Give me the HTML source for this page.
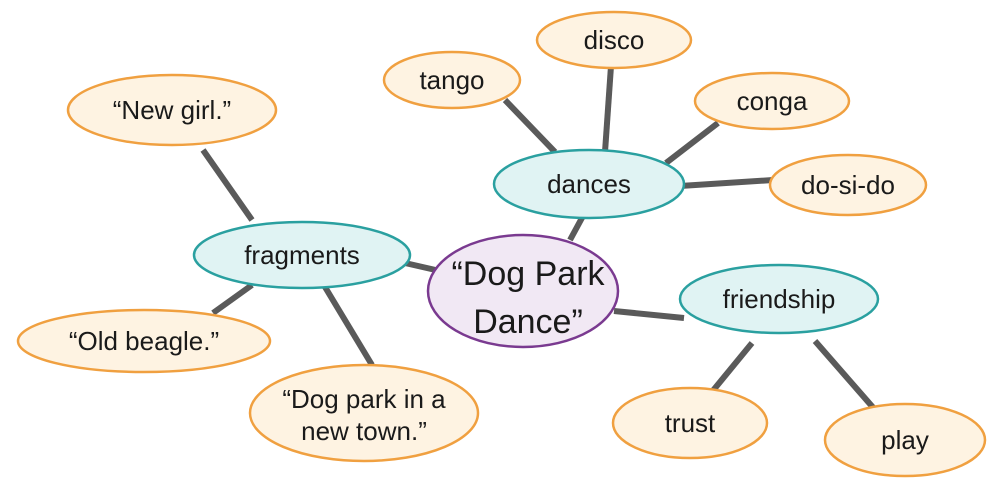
<!DOCTYPE html>
<html><head><style>html,body{margin:0;padding:0;background:#fff}</style></head>
<body>
<svg width="1000" height="491" viewBox="0 0 1000 491" xmlns="http://www.w3.org/2000/svg" font-family="'Liberation Sans', sans-serif" fill="#1a1a1a">
<g stroke="#5a5a5a" stroke-width="6" stroke-linecap="butt">
<line x1="505" y1="100" x2="555" y2="152"/>
<line x1="611" y1="66" x2="605" y2="152"/>
<line x1="718" y1="123" x2="666" y2="163"/>
<line x1="680" y1="186" x2="773" y2="180"/>
<line x1="583" y1="216" x2="570" y2="240"/>
<line x1="405" y1="263" x2="440" y2="271"/>
<line x1="203" y1="150" x2="252" y2="220"/>
<line x1="213" y1="313" x2="252" y2="285"/>
<line x1="325" y1="287" x2="372" y2="365"/>
<line x1="614" y1="311" x2="684" y2="318"/>
<line x1="752" y1="343" x2="711" y2="393"/>
<line x1="815" y1="341" x2="877" y2="412"/>
</g>
<g fill="#fef3e2" stroke="#f0a040" stroke-width="2.5">
<ellipse cx="452" cy="80" rx="68" ry="28"/>
<ellipse cx="614" cy="40" rx="77" ry="28"/>
<ellipse cx="772" cy="101" rx="77" ry="28"/>
<ellipse cx="848" cy="185" rx="78" ry="30"/>
<ellipse cx="172" cy="110" rx="104" ry="35"/>
<ellipse cx="144" cy="341" rx="126" ry="31"/>
<ellipse cx="364" cy="413" rx="114" ry="48"/>
<ellipse cx="690" cy="423" rx="77" ry="35"/>
<ellipse cx="905" cy="440" rx="80" ry="36"/>
</g>
<g fill="#e0f3f3" stroke="#2aa0a0" stroke-width="2.5">
<ellipse cx="589" cy="184" rx="95" ry="34"/>
<ellipse cx="302" cy="255" rx="108" ry="33"/>
<ellipse cx="779" cy="299" rx="99" ry="34"/>
</g>
<ellipse cx="523" cy="291" rx="95" ry="56" fill="#f1e8f4" stroke="#7a3a90" stroke-width="2.5"/>
<g font-size="26" text-anchor="middle">
<text x="452" y="89">tango</text>
<text x="614" y="49">disco</text>
<text x="772" y="110">conga</text>
<text x="848" y="194">do-si-do</text>
<text x="172" y="119">“New girl.”</text>
<text x="144" y="350">“Old beagle.”</text>
<text x="364" y="408">“Dog park in a</text>
<text x="364" y="440">new town.”</text>
<text x="690" y="432">trust</text>
<text x="905" y="449">play</text>
<text x="589" y="193">dances</text>
<text x="302" y="264">fragments</text>
<text x="779" y="308">friendship</text>
<text x="528" y="297" font-size="34" dy="-12">“Dog Park</text>
<text x="528" y="333" font-size="34">Dance”</text>
</g>
</svg>
</body></html>
